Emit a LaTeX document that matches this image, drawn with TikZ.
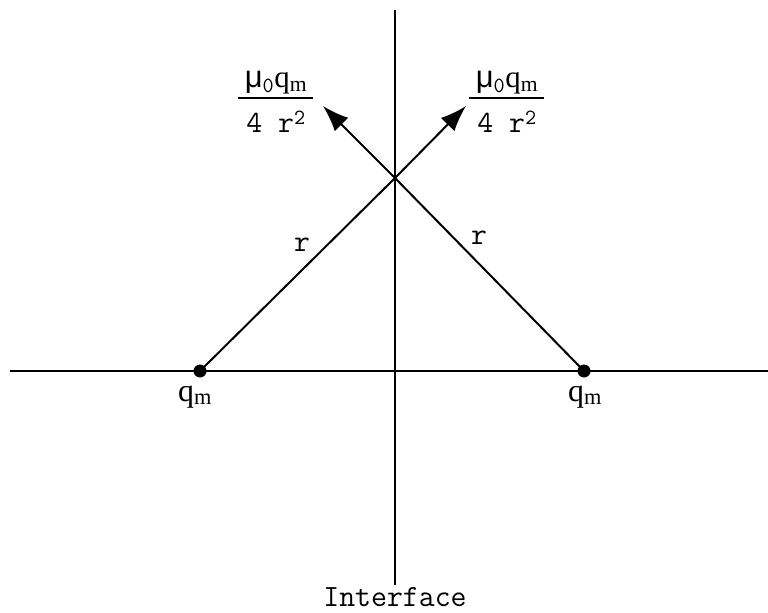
\documentclass[tikz,border=0pt]{standalone}
\usepackage{fontspec}
\newfontfamily\symfont{Liberation Serif}
\newfontfamily\greekfont{Liberation Sans}
\usetikzlibrary{arrows.meta}
\tikzset{
  axis/.style={line width=2bp},
  ray/.style={line width=2bp},
  forcearrow/.style={line width=2bp,-{Latex[length=26bp,width=19bp]}},
  charge/.style={circle,fill=black,inner sep=0pt,minimum size=13bp},
  lbl/.style={inner sep=0pt,font=\fontsize{31}{34}\ttfamily},
  qlbl/.style={inner sep=0pt,font=\fontsize{32}{34}\selectfont},
  numer/.style={inner sep=0pt,anchor=base,font=\fontsize{31}{34}\ttfamily},
  denom/.style={inner sep=0pt,anchor=base,font=\fontsize{31}{34}\ttfamily},
  fracbar/.style={line width=2bp}
}
\newcommand{\qmsym}{{\symfont q\textsubscript{m}}}
\newcommand{\munum}{{\greekfont μ}\textsubscript{0}\qmsym}
\newcommand{\denomtext}{4 r\textsuperscript{2}}
\begin{document}
\begin{tikzpicture}[x=1bp,y=-1bp]
\useasboundingbox (0,0) rectangle (768,613);
% axes
\coordinate (hl) at (10,371);
\coordinate (hr) at (768,371);
\coordinate (vt) at (395,10);
\coordinate (vb) at (395,585);
\draw[axis] (hl) -- (hr);
\draw[axis] (vt) -- (vb);
% charges
\node[charge] (q1) at (200,371) {};
\node[charge] (q2) at (584,371) {};
\coordinate (x) at (395,178);
\coordinate (tipR) at (466,106);
\coordinate (tipL) at (323,106);
\draw[ray] (q1.center) -- (x);
\draw[ray] (q2.center) -- (x);
\draw[forcearrow] (x) -- (tipR);
\draw[forcearrow] (x) -- (tipL);
% labels
\node[lbl] (r1) at (302,245) {r};
\node[lbl] (r2) at (479,238) {r};
\node[qlbl,anchor=base] (l1) at (195,401) {\qmsym};
\node[qlbl,anchor=base] (l2) at (585,401) {\qmsym};
% fractions
\node[numer] (n1) at (276,88) {\munum};
\node[denom] (d1) at (276,133) {\denomtext};
\draw[fracbar] (238,98) -- (313,98);
\node[numer] (n2) at (507,88) {\munum};
\node[denom] (d2) at (507,133) {\denomtext};
\draw[fracbar] (469,98) -- (544,98);
\node[lbl,anchor=base] (int) at (395,606) {Interface};
\end{tikzpicture}
\end{document}
